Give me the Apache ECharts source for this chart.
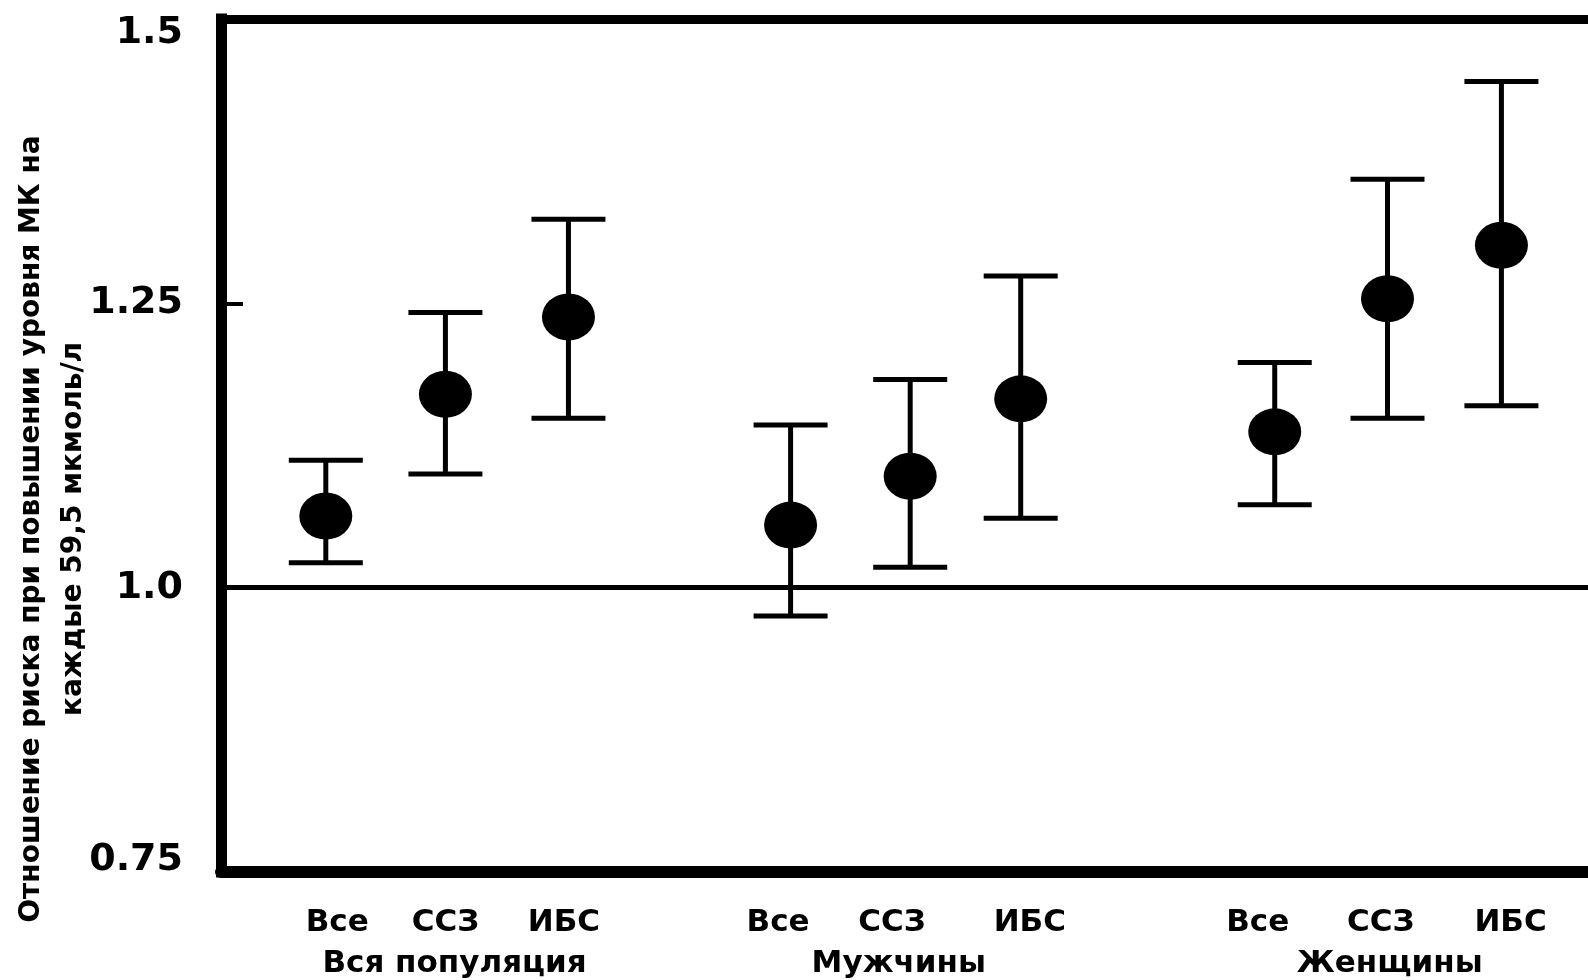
<!DOCTYPE html>
<html>
<head>
<meta charset="utf-8">
<script src="https://cdn.jsdelivr.net/npm/echarts@6/dist/echarts.min.js"></script>
<style>
html,body{margin:0;padding:0;background:#fff;}
#c{width:1588px;height:980px;}
</style>
</head>
<body>
<div id="c"></div>
<script>
// ---- data ----
const groups = ['Вся популяция', 'Мужчины', 'Женщины'];
const groupLabelPositions = [2.05, 5.95, 10.26];
const subCategories = ['Все', 'ССЗ', 'ИБС', 'Все', 'ССЗ', 'ИБС', 'Все', 'ССЗ', 'ИБС'];
const subLabelPositions = [1.02, 1.97, 3.01, 4.89, 5.89, 7.10, 9.10, 10.18, 11.32];
const xPositions = [0.92, 1.97, 3.05, 5.0, 6.05, 7.02, 9.25, 10.24, 11.24];
const riskRatio = [1.063, 1.170, 1.238, 1.055, 1.098, 1.166, 1.137, 1.254, 1.301];
const ciLower  = [1.022, 1.100, 1.149, 0.975, 1.018, 1.061, 1.073, 1.149, 1.160];
const ciUpper  = [1.112, 1.242, 1.324, 1.143, 1.183, 1.274, 1.198, 1.359, 1.445];
const yTickLabels = {'0.75': '0.75', '1': '1.0', '1.25': '1.25', '1.5': '1.5'};
const yTitleLines = ['Отношение риска при повышении уровня МК на', 'каждые 59,5 мкмоль/л'];
const referenceLine = 1.0;

// ---- chart ----
const chart = echarts.init(document.getElementById('c'), null, {renderer: 'canvas'});
const bold = 'bold 31px "DejaVu Sans"';
const yLab = {fontFamily: 'DejaVu Sans', fontWeight: 'bold', fontSize: 38, color: '#000'};

const option = {
  animation: false,
  backgroundColor: '#fff',
  grid: {left: 221, right: 0, top: 19, bottom: 108, containLabel: false},
  xAxis: [
    {type: 'value', min: 0, max: 12, position: 'bottom',
     axisLine: {show: true, onZero: false, lineStyle: {color: '#000', width: 12}},
     axisTick: {show: false}, axisLabel: {show: false}, splitLine: {show: false}},
    {type: 'value', min: 0, max: 12, position: 'top',
     axisLine: {show: true, onZero: false, lineStyle: {color: '#000', width: 9}},
     axisTick: {show: false}, axisLabel: {show: false}, splitLine: {show: false}}
  ],
  yAxis: {
    type: 'value', min: 0.75, max: 1.5, interval: 0.25,
    axisLine: {show: true, onZero: false, lineStyle: {color: '#000', width: 11, cap: 'square'}},
    axisTick: {show: true, inside: true, length: 22, lineStyle: {color: '#000', width: 4}},
    splitLine: {show: false},
    axisLabel: {
      margin: 38,
      formatter: function (v) {
        const t = yTickLabels[String(v)] || String(v);
        if (v >= 1.5) return '{top|' + t + '}';
        if (v <= 0.75) return '{bot|' + t + '}';
        return '{mid|' + t + '}';
      },
      rich: {
        top: Object.assign({padding: [28, 0, 0, 0]}, yLab),
        bot: Object.assign({padding: [0, 0, 24, 0]}, yLab),
        mid: yLab
      }
    }
  },
  graphic: [
    {type: 'text', x: 32, y: 529, rotation: Math.PI / 2,
     style: {text: yTitleLines[0], font: 'bold 28px "DejaVu Sans"', fill: '#000', align: 'center', verticalAlign: 'middle'}},
    {type: 'text', x: 74, y: 529, rotation: Math.PI / 2,
     style: {text: yTitleLines[1], font: 'bold 28px "DejaVu Sans"', fill: '#000', align: 'center', verticalAlign: 'middle'}}
  ],
  series: [
    {
      type: 'custom', name: 'ci',
      clip: false,
      data: xPositions.map((x, i) => [x, ciLower[i], ciUpper[i]]),
      renderItem: function (params, api) {
        const x = api.value(0);
        const lo = api.coord([x, api.value(1)]);
        const hi = api.coord([x, api.value(2)]);
        const hw = 37;
        const st = {stroke: '#000', lineWidth: 5};
        return {type: 'group', children: [
          {type: 'line', shape: {x1: lo[0], y1: lo[1], x2: hi[0], y2: hi[1]}, style: st},
          {type: 'line', shape: {x1: hi[0] - hw, y1: hi[1], x2: hi[0] + hw, y2: hi[1]}, style: st},
          {type: 'line', shape: {x1: lo[0] - hw, y1: lo[1], x2: lo[0] + hw, y2: lo[1]}, style: st}
        ]};
      },
      z: 2
    },
    {
      type: 'scatter', name: 'rr',
      data: xPositions.map((x, i) => [x, riskRatio[i]]),
      symbol: 'circle', symbolSize: [53, 47],
      itemStyle: {color: '#000', opacity: 1},
      z: 3,
      markLine: {
        silent: true, symbol: 'none', label: {show: false},
        lineStyle: {color: '#000', width: 5, type: 'solid', opacity: 1},
        data: [{yAxis: referenceLine}]
      }
    },
    {
      type: 'custom', name: 'subLabels', clip: false, silent: true,
      data: subLabelPositions.map((x, i) => [x, i]),
      renderItem: function (params, api) {
        const p = api.coord([api.value(0), 0.75]);
        return {type: 'text', x: p[0], y: p[1] + 51,
          style: {text: subCategories[api.value(1)], font: bold, fill: '#000', align: 'center', verticalAlign: 'middle'}};
      }
    },
    {
      type: 'custom', name: 'groupLabels', clip: false, silent: true,
      data: groupLabelPositions.map((x, i) => [x, i]),
      renderItem: function (params, api) {
        const p = api.coord([api.value(0), 0.75]);
        return {type: 'text', x: p[0], y: p[1] + 92,
          style: {text: groups[api.value(1)], font: bold, fill: '#000', align: 'center', verticalAlign: 'middle'}};
      }
    }
  ]
};
chart.setOption(option);
</script>
</body>
</html>
